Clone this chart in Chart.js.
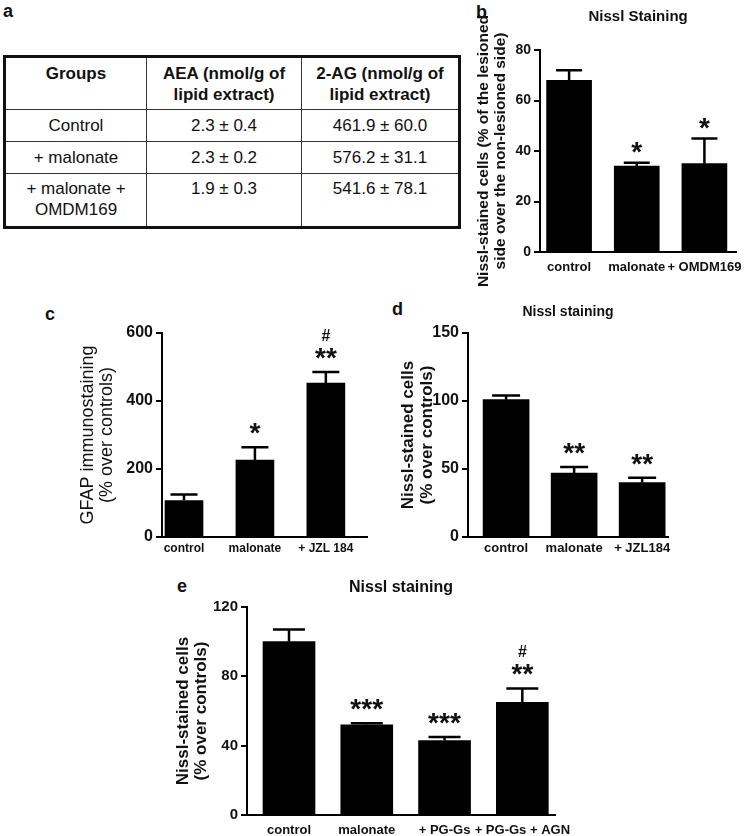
<!DOCTYPE html>
<html lang="en">
<head>
  <meta charset="UTF-8" />
  <title>Endocannabinoid levels and Nissl / GFAP staining</title>
  <script src="https://cdn.jsdelivr.net/npm/chart.js"></script>
  <style>
    body { margin: 0; background: #fff; font-family: 'Liberation Sans', Arial, sans-serif; color: #111; }
    #fig { position: relative; width: 752px; height: 836px; overflow: hidden; }
    canvas { position: absolute; }
    .letter { position: absolute; font-size: 18px; font-weight: bold; line-height: 18px; }
    #tbl { position: absolute; left: 3px; top: 55px; border-collapse: collapse; border: 3px solid #111; font-size: 17px; }
    #tbl th, #tbl td { border: 1px solid #333; text-align: center; padding: 0; line-height: 21px; }
    #tbl th { font-weight: bold; vertical-align: top; padding-top: 5px; height: 46px; }
    #tbl td { vertical-align: middle; height: 31px; }
    #tbl tr.last td { vertical-align: top; padding-top: 4px; height: 48px; }
  </style>
</head>
<body>
  <div id="fig">
    <div class="letter" style="left:3px; top:2px;">a</div>
    <div class="letter" style="left:476px; top:3px;">b</div>
    <div class="letter" style="left:45px; top:305px;">c</div>
    <div class="letter" style="left:392px; top:300px;">d</div>
    <div class="letter" style="left:177px; top:577px;">e</div>

    <table id="tbl"></table>

    <canvas id="chartB" width="282" height="300" style="left:470px; top:0px;"></canvas>
    <canvas id="chartC" width="320" height="250" style="left:60px; top:310px;"></canvas>
    <canvas id="chartD" width="357" height="260" style="left:395px; top:300px;"></canvas>
    <canvas id="chartE" width="440" height="266" style="left:160px; top:570px;"></canvas>
  </div>

  <script>
    // Table (a)
    const tableHeaders = ['Groups', 'AEA (nmol/g of\nlipid extract)', '2-AG (nmol/g of\nlipid extract)'];
    const tableGroups = ['Control', '+ malonate', '+ malonate +\nOMDM169'];
    const aeaValues = ['2.3 ± 0.4', '2.3 ± 0.2', '1.9 ± 0.3'];
    const agValues = ['461.9 ± 60.0', '576.2 ± 31.1', '541.6 ± 78.1'];

    // Panel b
    const bCategories = ['control', 'malonate', '+ OMDM169'];
    const bValues = [68, 34, 35];
    const bErrors = [4, 1.3, 10];
    const bStars = ['', '*', '*'];
    const bHashes = ['', '', ''];
    const bTicks = [0, 20, 40, 60, 80];

    // Panel c
    const cCategories = ['control', 'malonate', '+ JZL 184'];
    const cValues = [107, 226, 453];
    const cErrors = [18, 38, 32];
    const cStars = ['', '*', '**'];
    const cHashes = ['', '', '#'];
    const cTicks = [0, 200, 400, 600];

    // Panel d
    const dCategories = ['control', 'malonate', '+ JZL184'];
    const dValues = [101, 47, 40];
    const dErrors = [3, 4.5, 3.5];
    const dStars = ['', '**', '**'];
    const dHashes = ['', '', ''];
    const dTicks = [0, 50, 100, 150];

    // Panel e
    const eCategories = ['control', 'malonate', '+ PG-Gs', '+ PG-Gs + AGN'];
    const eValues = [100, 52, 43, 65];
    const eErrors = [7, 1, 2, 8];
    const eStars = ['', '***', '***', '**'];
    const eHashes = ['', '', '', '#'];
    const eTicks = [0, 40, 80, 120];

    function buildTable() {
      const tbl = document.getElementById('tbl');
      const widths = [140, 154, 156];
      let html = '<tr>' + tableHeaders.map((h, i) =>
        `<th style="width:${widths[i]}px">${h.replace('\n', '<br>')}</th>`).join('') + '</tr>';
      tableGroups.forEach((g, i) => {
        const cls = i === tableGroups.length - 1 ? ' class="last"' : '';
        html += `<tr${cls}><td>${g.replace('\n', '<br>')}</td><td>${aeaValues[i]}</td><td>${agValues[i]}</td></tr>`;
      });
      tbl.innerHTML = html;
    }
    buildTable();

    Chart.defaults.font.family = "'Liberation Sans', Arial, sans-serif";
    Chart.defaults.color = '#111';

    function drawMarks(ctx, text, cx, cy, font, pitch) {
      if (!text) return;
      ctx.font = font;
      ctx.textAlign = 'center';
      ctx.textBaseline = 'alphabetic';
      const m = ctx.measureText(text[0]);
      const off = (m.actualBoundingBoxAscent - m.actualBoundingBoxDescent) / 2;
      const n = text.length;
      for (let i = 0; i < n; i++) {
        ctx.fillText(text[i], cx + (i - (n - 1) / 2) * pitch, cy + off);
      }
    }

    // error bars (upper half only) plus significance marks
    const errorBars = {
      id: 'errorBars',
      afterDatasetsDraw(chart) {
        const { ctx, scales: { y } } = chart;
        const ds = chart.data.datasets[0];
        const meta = chart.getDatasetMeta(0);
        ctx.save();
        ctx.strokeStyle = '#000';
        ctx.fillStyle = '#111';
        ctx.lineWidth = 2.5;
        meta.data.forEach((bar, i) => {
          const v = ds.data[i].y;
          const top = y.getPixelForValue(v);
          const end = y.getPixelForValue(v + ds.errors[i]);
          const half = ds.capWidth / 2;
          ctx.beginPath();
          ctx.moveTo(bar.x, top);
          ctx.lineTo(bar.x, end);
          ctx.moveTo(bar.x - half, end);
          ctx.lineTo(bar.x + half, end);
          ctx.stroke();
          const starY = end - ds.starGap;
          drawMarks(ctx, ds.stars[i], bar.x, starY, 'bold 28px "Liberation Sans", Arial', 11);
          drawMarks(ctx, ds.hashes[i], bar.x, starY - 18, 'bold 16px "Liberation Sans", Arial', 10);
        });
        ctx.restore();
      }
    };

    function makeChart(id, p) {
      const ctx = document.getElementById(id).getContext('2d');
      return new Chart(ctx, {
        type: 'bar',
        data: {
          datasets: [{
            data: p.values.map((v, i) => ({ x: i, y: v })),
            backgroundColor: '#000',
            borderWidth: 0,
            barThickness: p.barThickness,
            errors: p.errors,
            stars: p.stars,
            hashes: p.hashes,
            capWidth: p.capWidth,
            starGap: p.starGap
          }]
        },
        options: {
          responsive: false,
          animation: false,
          devicePixelRatio: 1,
          layout: { padding: p.padding },
          plugins: {
            legend: { display: false },
            tooltip: { enabled: false },
            title: {
              display: !!p.title,
              text: p.title,
              fullSize: false,
              color: '#111',
              font: { size: p.titleSize, weight: 'bold', lineHeight: 1.2 },
              padding: p.titlePad
            }
          },
          scales: {
            x: {
              type: 'linear',
              offset: false,
              min: p.xMin,
              max: p.xMax,
              afterBuildTicks: axis => { axis.ticks = p.categories.map((c, i) => ({ value: i })); },
              afterFit: s => { s.height = p.xHeight; },
              grid: { display: false, drawTicks: false, offset: false },
              border: { display: true, color: '#000', width: 2 },
              ticks: {
                autoSkip: false,
                maxRotation: 0,
                padding: p.xPad,
                color: '#111',
                font: { size: p.xFont, weight: 'bold' },
                callback: v => p.categories[v]
              }
            },
            y: {
              min: 0,
              max: p.ticks[p.ticks.length - 1],
              afterBuildTicks: axis => { axis.ticks = p.ticks.map(v => ({ value: v })); },
              afterFit: s => { s.width = p.yWidth; },
              grid: { display: true, drawOnChartArea: false, drawTicks: true, tickLength: 6, color: '#000', lineWidth: 2 },
              border: { display: true, color: '#000', width: 2 },
              ticks: { padding: 3, color: '#111', font: { size: p.yFont, weight: 'bold' } },
              title: {
                display: true,
                text: p.yTitle,
                color: '#111',
                font: { size: p.yTitleSize, weight: p.yTitleWeight, lineHeight: p.yTitleLine },
                padding: { top: p.yTitlePad, bottom: 0 }
              }
            }
          }
        },
        plugins: [errorBars]
      });
    }

    makeChart('chartB', {
      categories: bCategories, values: bValues, errors: bErrors, stars: bStars, hashes: bHashes, ticks: bTicks,
      title: 'Nissl Staining', titleSize: 15, titlePad: { top: 8, bottom: 24 },
      padding: { top: 0, right: 9, left: 0, bottom: 0 },
      yWidth: 70, xHeight: 48, xMin: -0.43, xMax: 2.47, barThickness: 45, capWidth: 26, starGap: 15,
      xFont: 13, xPad: 8, yFont: 14,
      yTitle: ['Nissl-stained cells (% of the lesioned', 'side over the non-lesioned side)'],
      yTitleSize: 15.5, yTitleWeight: 'bold', yTitleLine: 17 / 15.5, yTitlePad: 5.5
    });

    makeChart('chartC', {
      categories: cCategories, values: cValues, errors: cErrors, stars: cStars, hashes: cHashes, ticks: cTicks,
      title: '', titleSize: 13, titlePad: 0,
      padding: { top: 23, right: 13, left: 0, bottom: 0 },
      yWidth: 102, xHeight: 23, xMin: -0.31, xMax: 2.58, barThickness: 38, capWidth: 27, starGap: 19,
      xFont: 12, xPad: 4, yFont: 16,
      yTitle: ['GFAP immunostaining', '(% over controls)'],
      yTitleSize: 18, yTitleWeight: 'normal', yTitleLine: 19 / 18, yTitlePad: 18.5
    });

    makeChart('chartD', {
      categories: dCategories, values: dValues, errors: dErrors, stars: dStars, hashes: dHashes, ticks: dTicks,
      title: 'Nissl staining', titleSize: 14, titlePad: { top: 3.6, bottom: 12.6 },
      padding: { top: 0, right: 84, left: 0, bottom: 0 },
      yWidth: 73, xHeight: 23, xMin: -0.56, xMax: 2.38, barThickness: 46, capWidth: 28, starGap: 18,
      xFont: 13, xPad: 4, yFont: 16,
      yTitle: ['Nissl-stained cells', '(% over controls)'],
      yTitleSize: 17, yTitleWeight: 'bold', yTitleLine: 19 / 17, yTitlePad: 3.5
    });

    makeChart('chartE', {
      categories: eCategories, values: eValues, errors: eErrors, stars: eStars, hashes: eHashes, ticks: eTicks,
      title: 'Nissl staining', titleSize: 16, titlePad: { top: 8.4, bottom: 9.4 },
      padding: { top: 0, right: 45, left: 0, bottom: 0 },
      yWidth: 87, xHeight: 21, xMin: -0.54, xMax: 3.42, barThickness: 52, capWidth: 32, starGap: 19,
      xFont: 13, xPad: 8, yFont: 15,
      yTitle: ['Nissl-stained cells', '(% over controls)'],
      yTitleSize: 17, yTitleWeight: 'bold', yTitleLine: 18 / 17, yTitlePad: 14
    });
  </script>
</body>
</html>
